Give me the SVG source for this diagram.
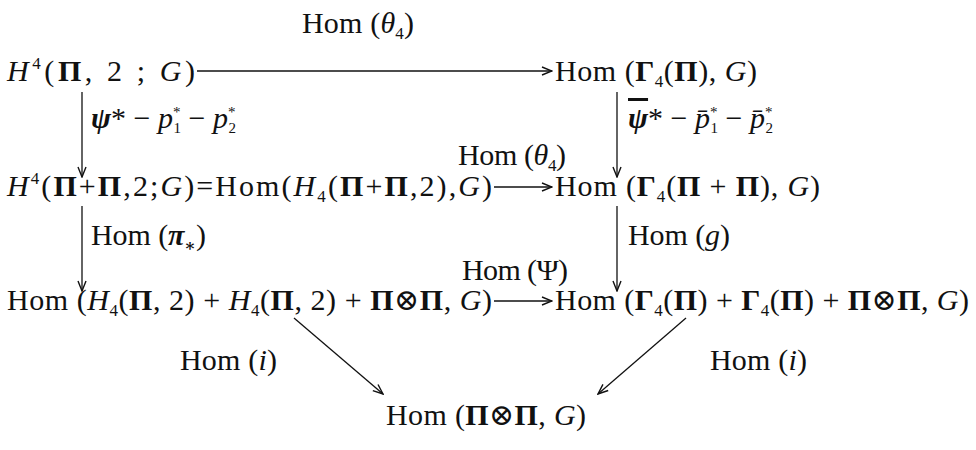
<svg xmlns="http://www.w3.org/2000/svg" width="976" height="450" viewBox="0 0 976 450">
<defs>
<style>
text{font-family:'Liberation Serif','DejaVu Serif',serif;font-size:30px;fill:#111}
.i{font-style:italic}
.b{font-weight:bold}
.s{font-size:17px}
.k{font-size:15px}
.o{text-decoration:overline;text-decoration-thickness:1.5px}
.c line{stroke:#111;stroke-width:1.3;fill:none}
</style>
<marker id="ah" viewBox="0 0 12 10" refX="11" refY="5" markerWidth="12" markerHeight="10" markerUnits="userSpaceOnUse" orient="auto">
<path d="M1,1 L11,5 L1,9" fill="none" stroke="#111" stroke-width="1.4"/>
</marker>
</defs>
<rect width="976" height="450" fill="#fff"/>
<g class="c" id="connectors">
<line x1="197" y1="71" x2="552" y2="71" marker-end="url(#ah)"/>
<line x1="494" y1="187" x2="552" y2="187" marker-end="url(#ah)"/>
<line x1="494" y1="301" x2="552" y2="301" marker-end="url(#ah)"/>
<line x1="82" y1="92" x2="82" y2="177" marker-end="url(#ah)"/>
<line x1="617" y1="92" x2="617" y2="177" marker-end="url(#ah)"/>
<line x1="82" y1="206" x2="82" y2="291" marker-end="url(#ah)"/>
<line x1="617" y1="206" x2="617" y2="291" marker-end="url(#ah)"/>
<line x1="294" y1="318" x2="383" y2="394" marker-end="url(#ah)"/>
<line x1="686" y1="318" x2="598" y2="394" marker-end="url(#ah)"/>
</g>
<g id="labels">
<text x="302" y="33" textLength="112" lengthAdjust="spacing">Hom (<tspan class="i">θ</tspan><tspan class="s" dy="6">4</tspan><tspan dy="-6">)</tspan></text>
<text x="91" y="128"><tspan class="i b">ψ</tspan>* − <tspan class="i">p</tspan><tspan class="k" dy="-11">*</tspan><tspan class="k" dx="-7" dy="16">1</tspan><tspan dy="-5"> − </tspan><tspan class="i">p</tspan><tspan class="k" dy="-11">*</tspan><tspan class="k" dx="-7" dy="16">2</tspan></text>
<text x="628" y="128"><tspan class="i b o">ψ</tspan>* − <tspan class="i">p̄</tspan><tspan class="k" dy="-11">*</tspan><tspan class="k" dx="-7" dy="16">1</tspan><tspan dy="-5"> − </tspan><tspan class="i">p̄</tspan><tspan class="k" dy="-11">*</tspan><tspan class="k" dx="-7" dy="16">2</tspan></text>
<text x="458" y="165" textLength="108" lengthAdjust="spacing">Hom (<tspan class="i">θ</tspan><tspan class="s" dy="6">4</tspan><tspan dy="-6">)</tspan></text>
<text x="91" y="245" textLength="115" lengthAdjust="spacing">Hom (<tspan class="i b">π</tspan><tspan class="s b" dy="6">∗</tspan><tspan dy="-6">)</tspan></text>
<text x="628" y="245" textLength="102" lengthAdjust="spacing">Hom (<tspan class="i">g</tspan>)</text>
<text x="462" y="280" textLength="106" lengthAdjust="spacing">Hom (Ψ)</text>
<text x="180" y="370" textLength="97" lengthAdjust="spacing">Hom (<tspan class="i">i</tspan>)</text>
<text x="710" y="370" textLength="97" lengthAdjust="spacing">Hom (<tspan class="i">i</tspan>)</text>
</g>
<g id="n1"><text x="7" y="81" textLength="188" lengthAdjust="spacing"><tspan class="i">H</tspan><tspan class="s" dy="-12">4</tspan><tspan dy="12">(</tspan><tspan class="b">Π</tspan>,  2 ;  <tspan class="i">G</tspan>)</text></g>
<g id="n2"><text x="555" y="81" textLength="202" lengthAdjust="spacing">Hom (<tspan class="b">Γ</tspan><tspan class="s" dy="6">4</tspan><tspan dy="-6">(</tspan><tspan class="b">Π</tspan>),  <tspan class="i">G</tspan>)</text></g>
<g id="n3"><text x="7" y="196" textLength="485" lengthAdjust="spacing"><tspan class="i">H</tspan><tspan class="s" dy="-12">4</tspan><tspan dy="12">(</tspan><tspan class="b">Π</tspan>+<tspan class="b">Π</tspan>,2;<tspan class="i">G</tspan>)=Hom(<tspan class="i">H</tspan><tspan class="s" dy="6">4</tspan><tspan dy="-6">(</tspan><tspan class="b">Π</tspan>+<tspan class="b">Π</tspan>,2),<tspan class="i">G</tspan>)</text></g>
<g id="n4"><text x="555" y="196" textLength="265" lengthAdjust="spacing">Hom (<tspan class="b">Γ</tspan><tspan class="s" dy="6">4</tspan><tspan dy="-6">(</tspan><tspan class="b">Π</tspan> + <tspan class="b">Π</tspan>), <tspan class="i">G</tspan>)</text></g>
<g id="n5"><text x="7" y="310" textLength="485" lengthAdjust="spacing">Hom (<tspan class="i">H</tspan><tspan class="s" dy="6">4</tspan><tspan dy="-6">(</tspan><tspan class="b">Π</tspan>, 2) + <tspan class="i">H</tspan><tspan class="s" dy="6">4</tspan><tspan dy="-6">(</tspan><tspan class="b">Π</tspan>, 2) + <tspan class="b">Π</tspan>⊗<tspan class="b">Π</tspan>, <tspan class="i">G</tspan>)</text></g>
<g id="n6"><text x="555" y="310" textLength="414" lengthAdjust="spacing">Hom (<tspan class="b">Γ</tspan><tspan class="s" dy="6">4</tspan><tspan dy="-6">(</tspan><tspan class="b">Π</tspan>) + <tspan class="b">Γ</tspan><tspan class="s" dy="6">4</tspan><tspan dy="-6">(</tspan><tspan class="b">Π</tspan>) + <tspan class="b">Π</tspan>⊗<tspan class="b">Π</tspan>, <tspan class="i">G</tspan>)</text></g>
<g id="n7"><text x="386" y="425" textLength="200" lengthAdjust="spacing">Hom (<tspan class="b">Π</tspan>⊗<tspan class="b">Π</tspan>, <tspan class="i">G</tspan>)</text></g>
</svg>
